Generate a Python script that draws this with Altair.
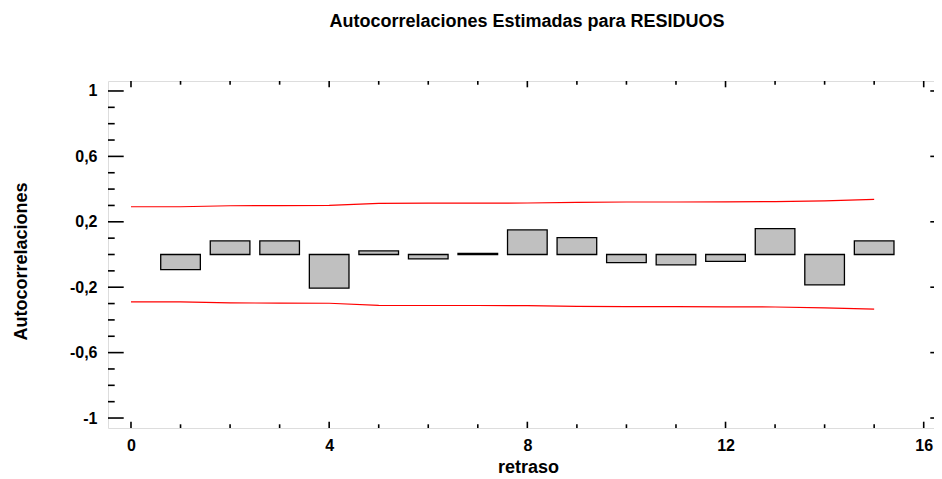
import altair as alt
import pandas as pd

# ---- data ----
lags = [1, 2, 3, 4, 5, 6, 7, 8, 9, 10, 11, 12, 13, 14, 15]
acf = [-0.092, 0.083, 0.083, -0.206, 0.022, -0.027, 0.007, 0.150, 0.103,
       -0.050, -0.064, -0.042, 0.158, -0.186, 0.083]

lim_lags = [0, 1, 2, 3, 4, 5, 6, 7, 8, 9, 10, 11, 12, 13, 14, 15]
upper = [0.292, 0.292, 0.298, 0.299, 0.300, 0.313, 0.314, 0.314, 0.315,
         0.319, 0.321, 0.321, 0.322, 0.323, 0.328, 0.337]
lower = [-0.290, -0.290, -0.296, -0.297, -0.298, -0.311, -0.312, -0.312, -0.313,
         -0.317, -0.319, -0.319, -0.320, -0.321, -0.326, -0.334]

y_major = [-1, -0.6, -0.2, 0.2, 0.6, 1]
y_minor = [-0.9, -0.8, -0.7, -0.5, -0.4, -0.3, -0.1, 0, 0.1, 0.3, 0.4, 0.5, 0.7, 0.8, 0.9]
x_major = [0, 4, 8, 12, 16]
x_minor = [1, 2, 3, 5, 6, 7, 9, 10, 11, 13, 14, 15]

title_text = "Autocorrelaciones Estimadas para RESIDUOS"
x_title = "retraso"
y_title = "Autocorrelaciones"

# ---- layout ----
W = 838
H = 347
FONT = "Liberation Sans"

bars_df = pd.DataFrame({"lag": lags, "acf": acf})
lim_df = pd.DataFrame({"lag": lim_lags, "upper": upper, "lower": lower})

xscale = alt.Scale(domain=[-0.464, 16.45], zero=False, nice=False)
yscale = alt.Scale(domain=[-1.061, 1.061], zero=False, nice=False)

ylabel_expr = ("datum.value == 1 ? '1' : datum.value == -1 ? '-1' : "
               "(datum.value < 0 ? '-' : '') + replace(format(abs(datum.value), '.1f'), '.', ',')")

x_axis = alt.Axis(values=x_major, format="d", ticks=False, tickSize=0, domain=False, grid=False,
                  labelFont=FONT, labelFontSize=16, labelFontWeight="bold", labelColor="black",
                  labelPadding=22, labelBaseline="alphabetic",
                  title=x_title, titleFont=FONT, titleFontSize=18, titleFontWeight="bold",
                  titleColor="black", titleX=420, titleY=44, titleBaseline="alphabetic")
y_axis = alt.Axis(values=y_major, labelExpr=ylabel_expr, ticks=False, tickSize=0, domain=False, grid=False,
                  labelFont=FONT, labelFontSize=16, labelFontWeight="bold", labelColor="black",
                  labelPadding=11,
                  title=y_title, titleFont=FONT, titleFontSize=18, titleFontWeight="bold",
                  titleColor="black", titleAngle=270, titleX=-87, titleY=180, titleBaseline="middle",
                  titleAlign="center")

bars = alt.Chart(bars_df).transform_calculate(
    x0="datum.lag - 0.4", x1="datum.lag + 0.4", zero="0"
).mark_rect(fill="#c0c0c0", stroke="black", strokeWidth=1.3).encode(
    x=alt.X("x0:Q", scale=xscale, axis=x_axis),
    x2="x1:Q",
    y=alt.Y("zero:Q", scale=yscale, axis=y_axis),
    y2="acf:Q",
)

up_line = alt.Chart(lim_df).mark_line(color="#ff0000", strokeWidth=1.2).encode(
    x=alt.X("lag:Q", scale=xscale, axis=x_axis),
    y=alt.Y("upper:Q", scale=yscale, axis=y_axis),
)
lo_line = alt.Chart(lim_df).mark_line(color="#ff0000", strokeWidth=1.2).encode(
    x=alt.X("lag:Q", scale=xscale, axis=x_axis),
    y=alt.Y("lower:Q", scale=yscale, axis=y_axis),
)

ymaj_df = pd.DataFrame({"v": y_major})
ymin_df = pd.DataFrame({"v": y_minor})
xmaj_df = pd.DataFrame({"v": x_major})
xmin_df = pd.DataFrame({"v": x_minor})


def ytick(df, x0, x1):
    return alt.Chart(df).mark_rule(color="black", strokeWidth=1.6).encode(
        y=alt.Y("v:Q", scale=yscale, axis=y_axis), x=alt.value(x0), x2=alt.value(x1))


def xtick(df, y0, y1):
    return alt.Chart(df).mark_rule(color="black", strokeWidth=1.6).encode(
        x=alt.X("v:Q", scale=xscale, axis=x_axis), y=alt.value(y0), y2=alt.value(y1))


ticks = [
    ytick(ymaj_df, 0, 15.7), ytick(ymin_df, 0, 6.7),
    ytick(ymaj_df, W, W - 15.7), ytick(ymin_df, W, W - 6.7),
    xtick(xmaj_df, H, H - 6.3), xtick(xmin_df, H, H - 3.7),
    xtick(xmaj_df, 0, 6.3), xtick(xmin_df, 0, 3.7),
]

chart = alt.layer(bars, up_line, lo_line, *ticks).properties(
    width=W, height=H,
    title=alt.TitleParams(title_text, font=FONT, fontSize=18, fontWeight="bold", color="black",
                          anchor="middle", baseline="alphabetic", offset=35),
    autosize=alt.AutoSizeParams(type="none"),
    padding={"left": 100, "top": 73, "right": -12, "bottom": 47},
).configure_view(stroke="black", strokeWidth=2).configure(background="white")

chart.save("out.html", embed_options={"renderer": "svg", "actions": False})
